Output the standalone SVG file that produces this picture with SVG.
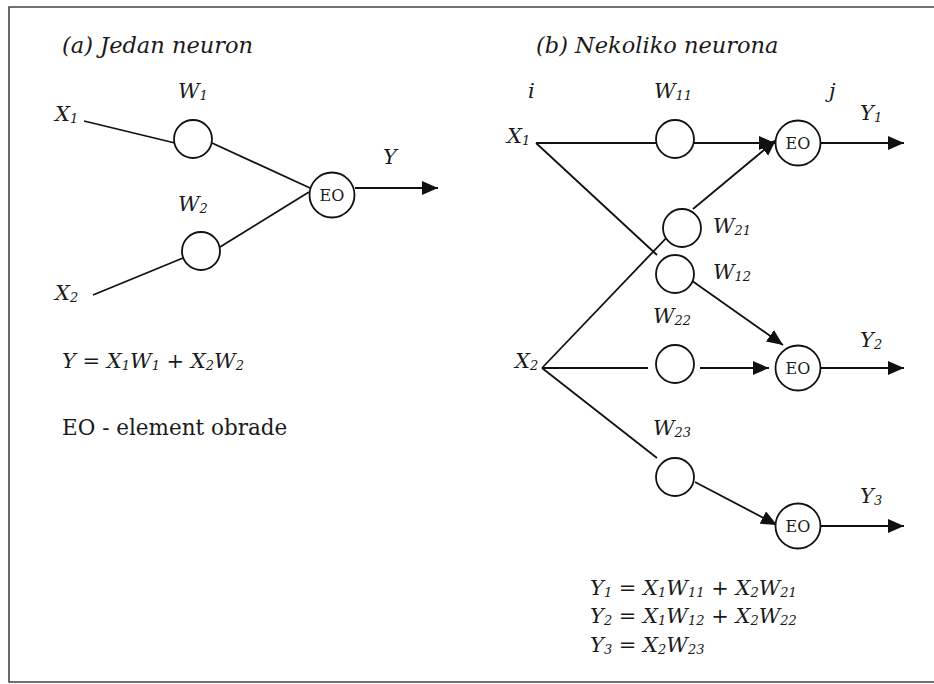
<svg xmlns="http://www.w3.org/2000/svg" width="934" height="684" viewBox="0 0 934 684">
<style>
.t{font-family:"DejaVu Serif","Liberation Serif",serif;font-style:italic;font-size:21px;fill:#1a1a1a}
.h{font-size:22.5px}
.r{font-family:"DejaVu Serif","Liberation Serif",serif;font-size:21.5px;fill:#1a1a1a}
.eo{font-family:"DejaVu Serif","Liberation Serif",serif;font-size:16px;fill:#1a1a1a;text-anchor:middle}
.s{font-size:13px}
.ln{stroke:#111;stroke-width:1.8;fill:none}
.arr{stroke:#111;stroke-width:1.8;fill:none;marker-end:url(#ah)}
.c{stroke:#111;stroke-width:1.8;fill:#fff}
</style>
<defs>
<marker id="ah" markerUnits="userSpaceOnUse" markerWidth="18" markerHeight="16" refX="16" refY="7" orient="auto">
<path d="M0,0 L16,7 L0,14 Z" fill="#111"/>
</marker>
</defs>
<path d="M940,7 H9 V682 H940" fill="none" stroke="#444" stroke-width="1.6"/>

<g id="connectors">
<line class="ln" x1="84" y1="121" x2="175" y2="143"/>
<line class="ln" x1="212" y1="143" x2="310" y2="188"/>
<line class="ln" x1="93" y1="295" x2="183" y2="258"/>
<line class="ln" x1="220" y1="247" x2="309" y2="192"/>
<line class="arr" x1="355" y1="188" x2="438" y2="188"/>

<line class="ln" x1="536" y1="143" x2="663" y2="143"/>
<line class="arr" x1="693" y1="143" x2="775" y2="143"/>
<line class="arr" x1="821" y1="143" x2="904" y2="143"/>
<line class="ln" x1="536" y1="143" x2="657" y2="255"/>
<line class="arr" x1="688" y1="278" x2="783" y2="345"/>
<line class="ln" x1="542" y1="368" x2="672" y2="232"/>
<line class="arr" x1="693" y1="209" x2="776" y2="140"/>
<line class="ln" x1="542" y1="368" x2="648" y2="368"/>
<line class="arr" x1="700" y1="368" x2="769" y2="368"/>
<line class="arr" x1="821" y1="368" x2="904" y2="368"/>
<line class="ln" x1="542" y1="368" x2="657" y2="458"/>
<line class="arr" x1="695" y1="482" x2="777" y2="525"/>
<line class="arr" x1="821" y1="526" x2="904" y2="526"/>
</g>

<g id="title-a"><text class="t h" x="62" y="53">(a) Jedan neuron</text></g>
<g id="x1a"><text class="t" x="55" y="121">X<tspan class="s" dy="2">1</tspan></text></g>
<g id="x2a"><text class="t" x="55" y="300">X<tspan class="s" dy="2">2</tspan></text></g>
<g id="w1a"><circle class="c" cx="193" cy="139" r="19"/><text class="t" x="178" y="98">W<tspan class="s" dy="2">1</tspan></text></g>
<g id="w2a"><circle class="c" cx="201" cy="251" r="19"/><text class="t" x="178" y="211">W<tspan class="s" dy="2">2</tspan></text></g>
<g id="eoa"><circle class="c" cx="332" cy="195" r="22.5"/><text class="eo" x="332" y="201">EO</text></g>
<g id="ya"><text class="t" x="383" y="164">Y</text></g>
<g id="eq-a"><text class="t" x="62" y="368">Y = X<tspan class="s" dy="2">1</tspan><tspan dy="-2">W</tspan><tspan class="s" dy="2">1</tspan><tspan dy="-2"> + X</tspan><tspan class="s" dy="2">2</tspan><tspan dy="-2">W</tspan><tspan class="s" dy="2">2</tspan></text></g>
<g id="legend"><text class="r" x="62" y="435">EO - element obrade</text></g>

<g id="title-b"><text class="t h" x="536" y="53">(b) Nekoliko neurona</text></g>
<g id="i"><text class="t" x="528" y="98">i</text></g>
<g id="j"><text class="t" x="829" y="98">j</text></g>
<g id="x1b"><text class="t" x="507" y="143">X<tspan class="s" dy="2">1</tspan></text></g>
<g id="x2b"><text class="t" x="515" y="368">X<tspan class="s" dy="2">2</tspan></text></g>
<g id="w11"><circle class="c" cx="675" cy="139" r="19"/><text class="t" x="654" y="98">W<tspan class="s" dy="2">11</tspan></text></g>
<g id="w21"><circle class="c" cx="682" cy="228" r="19"/><text class="t" x="713" y="233">W<tspan class="s" dy="2">21</tspan></text></g>
<g id="w12"><circle class="c" cx="675" cy="274" r="19"/><text class="t" x="713" y="279">W<tspan class="s" dy="2">12</tspan></text></g>
<g id="w22"><circle class="c" cx="675" cy="364" r="19"/><text class="t" x="653" y="323">W<tspan class="s" dy="2">22</tspan></text></g>
<g id="w23"><circle class="c" cx="675" cy="477" r="19"/><text class="t" x="653" y="435">W<tspan class="s" dy="2">23</tspan></text></g>
<g id="eo1"><circle class="c" cx="798" cy="143" r="22.5"/><text class="eo" x="798" y="149">EO</text></g>
<g id="eo2"><circle class="c" cx="798" cy="368" r="22.5"/><text class="eo" x="798" y="374">EO</text></g>
<g id="eo3"><circle class="c" cx="798" cy="526" r="22.5"/><text class="eo" x="798" y="532">EO</text></g>
<g id="y1"><text class="t" x="860" y="120">Y<tspan class="s" dy="2">1</tspan></text></g>
<g id="y2"><text class="t" x="860" y="347">Y<tspan class="s" dy="2">2</tspan></text></g>
<g id="y3"><text class="t" x="860" y="503">Y<tspan class="s" dy="2">3</tspan></text></g>
<g id="eq-b">
<text class="t" x="590" y="595">Y<tspan class="s" dy="2">1</tspan><tspan dy="-2"> = X</tspan><tspan class="s" dy="2">1</tspan><tspan dy="-2">W</tspan><tspan class="s" dy="2">11</tspan><tspan dy="-2"> + X</tspan><tspan class="s" dy="2">2</tspan><tspan dy="-2">W</tspan><tspan class="s" dy="2">21</tspan></text>
<text class="t" x="590" y="623">Y<tspan class="s" dy="2">2</tspan><tspan dy="-2"> = X</tspan><tspan class="s" dy="2">1</tspan><tspan dy="-2">W</tspan><tspan class="s" dy="2">12</tspan><tspan dy="-2"> + X</tspan><tspan class="s" dy="2">2</tspan><tspan dy="-2">W</tspan><tspan class="s" dy="2">22</tspan></text>
<text class="t" x="590" y="652">Y<tspan class="s" dy="2">3</tspan><tspan dy="-2"> = X</tspan><tspan class="s" dy="2">2</tspan><tspan dy="-2">W</tspan><tspan class="s" dy="2">23</tspan></text>
</g>
</svg>
